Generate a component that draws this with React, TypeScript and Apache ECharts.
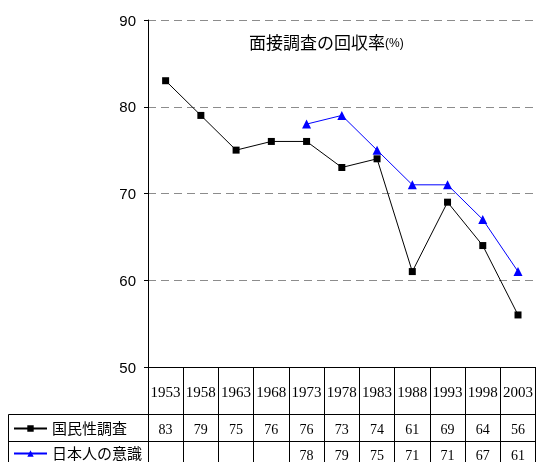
import React, { useEffect, useRef } from 'react';
import * as echarts from 'echarts';

const years = ['1953', '1958', '1963', '1968', '1973', '1978', '1983', '1988', '1993', '1998', '2003'];
const nationalCharacter = [83, 79, 75, 76, 76, 73, 74, 61, 69, 64, 56];
const japaneseConsciousness: (number | null)[] = [null, null, null, null, 78, 79, 75, 71, 71, 67, 61];
const seriesNames = ['国民性調査', '日本人の意識'];
const titleMain = '面接調査の回収率';
const titleUnit = '(%)';
const yMin = 50;
const yMax = 90;
const yStep = 10;

const SANS = '"Liberation Sans", "Noto Sans CJK JP", sans-serif';
const SERIF = '"Liberation Serif", "Noto Serif CJK JP", serif';

export default function App() {
  const ref = useRef<HTMLDivElement>(null);
  useEffect(() => {
    const chart = echarts.init(ref.current!, null, { renderer: 'svg' });
    const fmt = (arr: (number | null)[]) => (_v: string, i: number) =>
      arr[i] == null ? '' : String(arr[i]);
    const tableAxis = (offset: number, len: number, margin: number, arr: (number | null)[]) => ({
      type: 'category',
      data: years,
      position: 'bottom',
      offset,
      boundaryGap: true,
      axisLine: { show: true, onZero: false, lineStyle: { color: '#000', width: 1 } },
      axisTick: { show: true, interval: 0, length: len, lineStyle: { color: '#000', width: 1 } },
      axisLabel: { interval: 0, margin, formatter: fmt(arr), fontFamily: SERIF, fontSize: 14, color: '#000' },
      splitLine: { show: false },
    });
    chart.setOption({
      animation: false,
      title: {
        text: `{a|${titleMain}}{b|${titleUnit}}`,
        left: 249,
        top: 35,
        padding: 0,
        textStyle: {
          fontWeight: 'normal',
          rich: {
            a: { fontSize: 17, fontWeight: 'normal', fontFamily: SANS, color: '#000' },
            b: { fontSize: 12, fontWeight: 'normal', fontFamily: SANS, color: '#000' },
          },
        },
      },
      legend: {
        orient: 'vertical',
        left: 13,
        top: 421,
        height: 60,
        padding: 0,
        itemWidth: 33,
        itemHeight: 8,
        itemGap: 10,
        selectedMode: false,
        textStyle: { fontFamily: SANS, fontSize: 15, color: '#000' },
        data: seriesNames,
      },
      grid: { left: 148, right: 0, top: 20, bottom: 95, containLabel: false },
      xAxis: [
        {
          type: 'category',
          data: years,
          position: 'bottom',
          boundaryGap: true,
          axisLine: { show: true, lineStyle: { color: '#000', width: 1 } },
          axisTick: { show: true, interval: 0, length: 47, lineStyle: { color: '#000', width: 1 } },
          axisLabel: { interval: 0, margin: 17, fontFamily: SERIF, fontSize: 15, color: '#000' },
          splitLine: { show: false },
        },
        tableAxis(47, 27, 8, nationalCharacter),
        tableAxis(74, 27, 7, japaneseConsciousness),
      ],
      yAxis: {
        type: 'value',
        min: yMin,
        max: yMax,
        interval: yStep,
        axisLine: { show: true, lineStyle: { color: '#000', width: 1 } },
        axisTick: { show: true, length: 4, lineStyle: { color: '#000' } },
        axisLabel: { margin: 12, fontSize: 15, fontFamily: SANS, color: '#000' },
        splitLine: { show: true, lineStyle: { color: '#8c8c8c', width: 1, type: [8, 5] } },
      },
      series: [
        {
          name: seriesNames[0],
          type: 'line',
          xAxisIndex: 0,
          data: nationalCharacter,
          symbol: 'rect',
          symbolSize: 7,
          itemStyle: { color: '#000' },
          lineStyle: { color: '#000', width: 1 },
        },
        {
          name: seriesNames[1],
          type: 'line',
          xAxisIndex: 0,
          data: japaneseConsciousness,
          symbol: 'triangle',
          symbolSize: 9,
          itemStyle: { color: '#0000ff' },
          lineStyle: { color: '#0000ff', width: 1 },
        },
      ],
      graphic: [
        { type: 'line', shape: { x1: 8.5, y1: 414.5, x2: 536, y2: 414.5 }, style: { stroke: '#000', lineWidth: 1 } },
        { type: 'line', shape: { x1: 8.5, y1: 441.5, x2: 536, y2: 441.5 }, style: { stroke: '#000', lineWidth: 1 } },
        { type: 'line', shape: { x1: 8.5, y1: 414.5, x2: 8.5, y2: 462 }, style: { stroke: '#000', lineWidth: 1 } },
      ],
    });
    return () => chart.dispose();
  }, []);
  return <div ref={ref} style={{ position: 'fixed', left: 0, top: 0, width: 536, height: 462 }} />;
}
